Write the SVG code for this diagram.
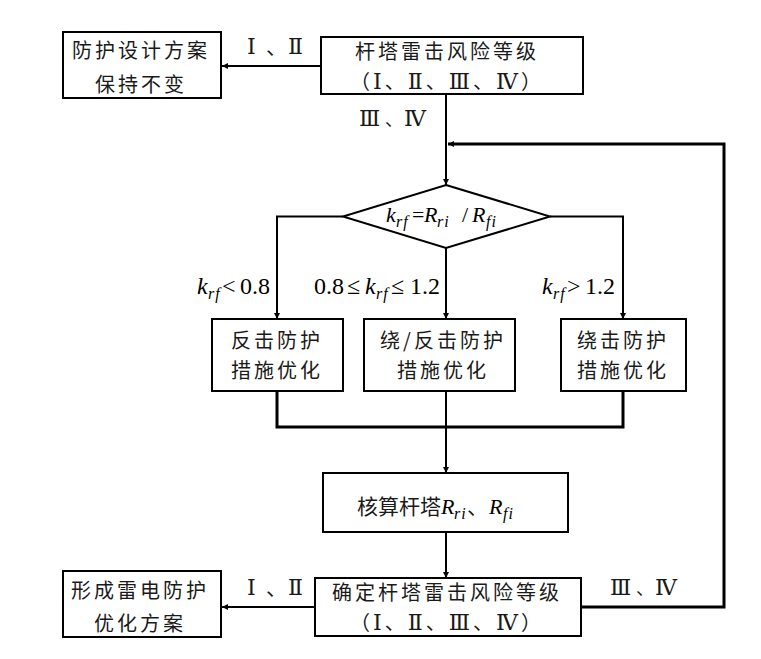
<svg xmlns="http://www.w3.org/2000/svg" width="761" height="659" viewBox="0 0 761 659">
<style>
.box{fill:#fff;stroke:#000;stroke-width:2}
.cn{font-family:"Noto Sans CJK SC","Noto Sans CJK JP",sans-serif;font-size:20px;letter-spacing:3px;fill:#1a1a1a;text-anchor:middle}
.lb{font-family:"Noto Sans CJK SC","Noto Sans CJK JP",sans-serif;font-size:21px;fill:#1a1a1a}
.rn{font-family:"DejaVu Serif","Liberation Serif","Noto Sans CJK SC",serif;font-size:22px}
.dn{font-size:18px}
.ln{fill:none;stroke:#000;stroke-width:2}
.thick{fill:none;stroke:#000;stroke-width:3}
.it{font-family:"Liberation Serif","Times New Roman",serif;font-style:italic;font-size:22px;fill:#000}
.rm{font-family:"Liberation Serif","Times New Roman",serif;font-style:normal;font-size:22px;fill:#000}
.sb{font-family:"Liberation Serif","Times New Roman",serif;font-style:italic;font-size:16px;letter-spacing:1px;fill:#000}
.big{font-size:24px}
</style>
<defs>
<marker id="ah" markerUnits="userSpaceOnUse" markerWidth="7" markerHeight="7" refX="6" refY="3" orient="auto">
<path d="M0,0 L6,3 L0,6 z" fill="#000"/>
</marker>
</defs>
<rect width="761" height="659" fill="#fff"/>
<g id="connectors">
<line class="ln" x1="446" y1="94" x2="446" y2="185" marker-end="url(#ah)"/>
<line class="ln" x1="321" y1="66" x2="222" y2="66" marker-end="url(#ah)"/>
<polyline class="thick" points="581,607 724,607 724,144 448,144" marker-end="url(#ah)"/>
<polyline class="ln" points="343,216.5 277,216.5 277,319" marker-end="url(#ah)"/>
<polyline class="ln" points="550,216.5 623,216.5 623,319" marker-end="url(#ah)"/>
<line class="ln" x1="446" y1="248" x2="446" y2="319" marker-end="url(#ah)"/>
<polyline class="thick" points="277,391 277,427 623,427 623,391"/>
<line class="ln" x1="446" y1="391" x2="446" y2="473" marker-end="url(#ah)"/>
<line class="ln" x1="446" y1="532" x2="446" y2="578" marker-end="url(#ah)"/>
<line class="ln" x1="315" y1="607" x2="222" y2="607" marker-end="url(#ah)"/>
<text class="lb" y="54"><tspan class="rn" x="247">Ⅰ</tspan><tspan x="266">、</tspan><tspan class="rn" x="288">Ⅱ</tspan></text>
<text class="lb" y="126"><tspan class="rn" x="359">Ⅲ</tspan><tspan class="dn" x="385">、</tspan><tspan class="rn" x="404">Ⅳ</tspan></text>
<text class="lb" y="595"><tspan class="rn" x="247">Ⅰ</tspan><tspan x="266">、</tspan><tspan class="rn" x="288">Ⅱ</tspan></text>
<text class="lb" y="595"><tspan class="rn" x="610">Ⅲ</tspan><tspan class="dn" x="636">、</tspan><tspan class="rn" x="655">Ⅳ</tspan></text>
<text class="it big" x="197" y="294">k</text><text class="sb" x="208" y="299">rf</text><text class="rm big" x="222" y="294">&lt;</text><text class="rm big" x="240" y="294">0.8</text>
<text class="rm big" x="314" y="294">0.8</text><text class="rm big" x="347" y="294">≤</text><text class="it big" x="365" y="294">k</text><text class="sb" x="376" y="299">rf</text><text class="rm big" x="391" y="294">≤</text><text class="rm big" x="410" y="294">1.2</text>
<text class="it big" x="542" y="294">k</text><text class="sb" x="553" y="299">rf</text><text class="rm big" x="567" y="294">&gt;</text><text class="rm big" x="585" y="294">1.2</text>
</g>
<g id="node-top-left">
<rect class="box" x="63" y="32" width="158" height="66"/>
<text class="cn" x="141" y="58">防护设计方案</text>
<text class="cn" x="141" y="92">保持不变</text>
</g>
<g id="node-top-center">
<rect class="box" x="321" y="37" width="262" height="57"/>
<text class="cn" x="447" y="59">杆塔雷击风险等级</text>
<text class="cn" x="447" y="89">（<tspan class="rn">Ⅰ</tspan>、<tspan class="rn">Ⅱ</tspan>、<tspan class="rn">Ⅲ</tspan>、<tspan class="rn">Ⅳ</tspan>）</text>
</g>
<g id="node-diamond">
<polygon class="box" points="446,185 550,216.5 446,248 343,216.5"/>
<text class="it" x="386" y="222">k</text><text class="sb" x="396" y="227">rf</text>
<text class="rm" x="412" y="222">=</text>
<text class="it" x="424" y="222">R</text><text class="sb" x="437" y="227">ri</text>
<text class="rm" x="462" y="222">/</text>
<text class="it" x="472" y="222">R</text><text class="sb" x="486" y="227">fi</text>
</g>
<g id="node-b1">
<rect class="box" x="212" y="319" width="131" height="72"/>
<text class="cn" x="277" y="348">反击防护</text>
<text class="cn" x="277" y="378">措施优化</text>
</g>
<g id="node-b2">
<rect class="box" x="364" y="319" width="151" height="72"/>
<text class="cn" x="443" y="348">绕/反击防护</text>
<text class="cn" x="443" y="378">措施优化</text>
</g>
<g id="node-b3">
<rect class="box" x="561" y="319" width="125" height="72"/>
<text class="cn" x="623" y="348">绕击防护</text>
<text class="cn" x="623" y="378">措施优化</text>
</g>
<g id="node-check">
<rect class="box" x="323" y="473" width="245" height="59"/>
<text class="lb" x="357" y="514">核算杆塔</text>
<text class="it" x="441" y="514">R</text><text class="sb" x="454" y="519">ri</text>
<text class="lb" x="467" y="514">、</text>
<text class="it" x="489" y="514">R</text><text class="sb" x="503" y="519">fi</text>
</g>
<g id="node-bottom-left">
<rect class="box" x="63" y="571" width="158" height="66"/>
<text class="cn" x="140" y="598">形成雷电防护</text>
<text class="cn" x="140" y="631">优化方案</text>
</g>
<g id="node-bottom-center">
<rect class="box" x="315" y="578" width="266" height="58"/>
<text class="cn" x="447" y="600">确定杆塔雷击风险等级</text>
<text class="cn" x="447" y="630">（<tspan class="rn">Ⅰ</tspan>、<tspan class="rn">Ⅱ</tspan>、<tspan class="rn">Ⅲ</tspan>、<tspan class="rn">Ⅳ</tspan>）</text>
</g>
</svg>
